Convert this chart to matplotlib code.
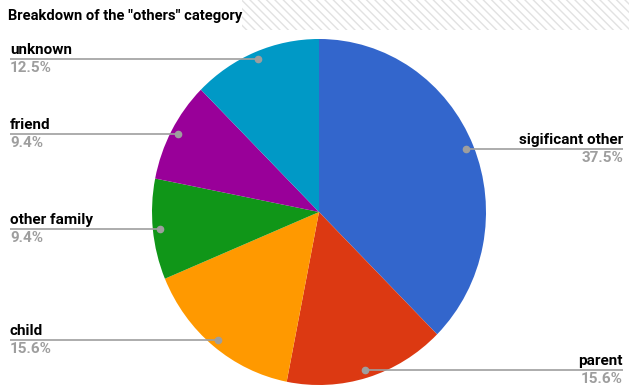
import numpy as np
import matplotlib.pyplot as plt
from matplotlib.patches import Rectangle

labels = ["sigificant other", "parent", "child", "other family", "friend", "unknown"]
values = [37.5, 15.6, 15.6, 9.4, 9.4, 12.5]
colors = ["#3366CC", "#DC3912", "#FF9900", "#109618", "#990099", "#0099C6"]
title = 'Breakdown of the "others" category'

W, H = 629, 387
sy = 1.036  # the pie is a bit taller than wide
fig = plt.figure(figsize=(W / 100, H / 100), dpi=100)

# pie axes: x in pixels, y stretched
pax = fig.add_axes([0, 0, 1, 1])
cx, cy, r = 319, H - 212, 167
wedges, _ = pax.pie(values, colors=colors, startangle=90, counterclock=False,
                    center=(cx, cy / sy), radius=r, frame=True,
                    wedgeprops=dict(linewidth=0))
pax.set_xlim(0, W)
pax.set_ylim(0, H / sy)
pax.set_aspect("auto")
pax.axis("off")

# overlay axes in pixel coordinates
ax = fig.add_axes([0, 0, 1, 1])
ax.set_xlim(0, W)
ax.set_ylim(0, H)
ax.axis("off")

ax.add_patch(Rectangle((242, H - 30), W - 242, 30, facecolor="white",
                       edgecolor="#e2e2e2", hatch="\\\\\\\\", linewidth=0))
ax.text(8, H - 16, title, fontsize=10.6, fontweight="bold", family="Roboto",
        ha="left", va="center", color="#000000")

line_col = "#9e9e9e"
for w, lab, v in zip(wedges, labels, values):
    mid = np.deg2rad((w.theta1 + w.theta2) / 2)
    px = cx + 0.955 * r * np.cos(mid)
    py = cy + 0.955 * r * sy * np.sin(mid)
    if px < cx:
        x0, ha = 10, "left"
    else:
        x0, ha = 623, "right"
    ax.plot([x0, px], [py, py], color=line_col, linewidth=1.2, solid_capstyle="butt")
    ax.plot(px, py, "o", color=line_col, markersize=4.5)
    ax.text(x0, py + 2, lab, fontsize=11, fontweight="bold", family="Roboto",
            ha=ha, va="bottom", color="#000000")
    ax.text(x0, py - 2, f"{v}%", fontsize=11, fontweight="bold", family="Roboto",
            ha=ha, va="top", color="#9e9e9e")

fig.savefig("out.png", dpi=100)
